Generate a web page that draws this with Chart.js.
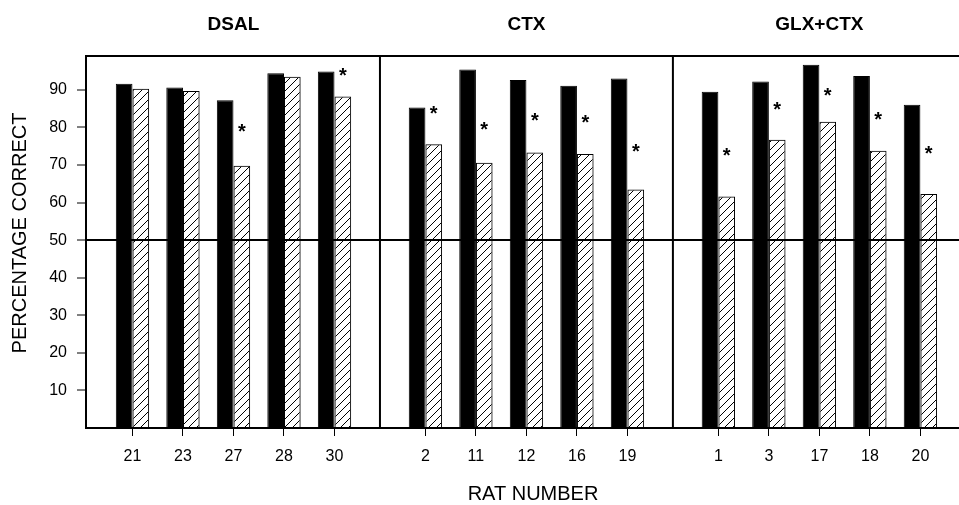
<!DOCTYPE html>
<html>
<head>
<meta charset="utf-8">
<script src="https://cdn.jsdelivr.net/npm/chart.js@4/dist/chart.umd.min.js"></script>
<style>
    html, body { margin: 0; padding: 0; background: #fff; overflow: hidden; }
    #wrap { width: 980px; height: 505px; }
</style>
</head>
<body>
<div id="wrap"><canvas id="ratChart" width="980" height="505"></canvas></div>
<script>
const groupNames = ['DSAL', 'CTX', 'GLX+CTX'];
const ratNumbers = ['21', '23', '27', '28', '30', '2', '11', '12', '16', '19', '1', '3', '17', '18', '20'];
const solidValues = [91.6, 90.6, 87.2, 94.4, 94.9, 85.3, 95.4, 92.6, 91.1, 93.0, 89.5, 92.2, 96.7, 93.7, 86.0];
const hatchedValues = [90.3, 89.7, 69.8, 93.5, 88.2, 75.5, 70.6, 73.3, 72.9, 63.5, 61.6, 76.7, 81.5, 73.8, 62.3];
// asterisk heights, null = no asterisk
const starValues = [null, null, 80.1, null, 95.0, 84.9, 80.7, 83.0, 82.5, 74.9, 73.8, 86.0, 89.7, 83.4, 74.3];
const yTicks = [10, 20, 30, 40, 50, 60, 70, 80, 90];
const yTitle = 'PERCENTAGE CORRECT';
const xTitle = 'RAT NUMBER';

// slot layout on the x axis
const PER_GROUP = 5;
const FIRST_SLOT = 0.92;
const GROUP_STRIDE = 5.8;
const X_MAX = 17.7;

function slotPos(k) {
    const g = Math.floor(k / PER_GROUP);
    return FIRST_SLOT + g * GROUP_STRIDE + (k % PER_GROUP);
}
const slotPositions = ratNumbers.map((_, k) => slotPos(k));
const groupCenters = groupNames.map((_, g) => slotPos(g * PER_GROUP + 2));
const separators = [1, 2].map(g => FIRST_SLOT + g * GROUP_STRIDE - 0.9);

const FONT = '"Liberation Sans", Arial, sans-serif';

function makeHatch() {
    const c = document.createElement('canvas');
    c.width = 8; c.height = 8;
    const cx = c.getContext('2d');
    cx.strokeStyle = '#000';
    cx.lineWidth = 1;
    cx.beginPath();
    cx.moveTo(0, 8); cx.lineTo(8, 0);
    cx.moveTo(-2, 2); cx.lineTo(2, -2);
    cx.moveTo(6, 10); cx.lineTo(10, 6);
    cx.stroke();
    return cx.createPattern(c, 'repeat');
}

const extras = {
    id: 'extras',
    beforeDatasetsDraw(chart) {
        const { ctx, chartArea, scales } = chart;
        ctx.save();
        ctx.strokeStyle = '#000';
        ctx.lineWidth = 2;
        separators.forEach(v => {
            const x = scales.x.getPixelForValue(v);
            ctx.beginPath();
            ctx.moveTo(x, chartArea.top);
            ctx.lineTo(x, chartArea.bottom);
            ctx.stroke();
        });
        ctx.restore();
    },
    afterDatasetsDraw(chart) {
        const { ctx, chartArea, scales } = chart;
        const bars = chart.getDatasetMeta(1).data;
        ctx.save();
        ctx.fillStyle = '#000';
        ctx.font = 'bold 20px ' + FONT;
        ctx.textAlign = 'center';
        ctx.textBaseline = 'alphabetic';
        starValues.forEach((v, i) => {
            if (v === null) return;
            ctx.fillText('*', bars[i].x, scales.y.getPixelForValue(v) + 11);
        });
        // y axis title
        ctx.font = '20px ' + FONT;
        ctx.textBaseline = 'middle';
        ctx.translate(20, (chartArea.top + chartArea.bottom) / 2 - 9);
        ctx.rotate(-Math.PI / 2);
        ctx.fillText(yTitle, 0, 0);
        ctx.restore();
    }
};

const ctx = document.getElementById('ratChart').getContext('2d');
new Chart(ctx, {
    type: 'bar',
    data: {
        datasets: [{
            label: 'Solid',
            data: solidValues.map((v, i) => ({ x: slotPositions[i], y: v })),
            backgroundColor: '#000',
            borderColor: '#000',
            borderWidth: 1
        }, {
            label: 'Hatched',
            data: hatchedValues.map((v, i) => ({ x: slotPositions[i], y: v })),
            backgroundColor: makeHatch(),
            borderColor: '#000',
            borderWidth: 1
        }]
    },
    options: {
        responsive: false,
        animation: false,
        categoryPercentage: 0.66,
        barPercentage: 1,
        layout: { padding: { top: 13, left: 0, right: 0, bottom: 0 } },
        plugins: {
            legend: { display: false },
            tooltip: { enabled: false }
        },
        scales: {
            x: {
                type: 'linear',
                position: 'bottom',
                min: 0,
                max: X_MAX,
                offset: false,
                afterBuildTicks: s => { s.ticks = slotPositions.map(v => ({ value: v })); },
                afterFit: s => { s.height = 77; },
                ticks: {
                    autoSkip: false,
                    maxRotation: 0,
                    padding: 11,
                    color: '#000',
                    font: { family: FONT, size: 16 },
                    callback: (v, i) => ratNumbers[i]
                },
                grid: {
                    offset: false,
                    drawOnChartArea: false,
                    drawTicks: true,
                    tickLength: 8,
                    tickColor: '#000',
                    tickWidth: 1
                },
                border: { display: true, color: '#000', width: 2 },
                title: {
                    display: true,
                    text: xTitle,
                    color: '#000',
                    font: { family: FONT, size: 20 },
                    padding: { top: 0, bottom: -1 }
                }
            },
            top: {
                type: 'linear',
                axis: 'x',
                position: 'top',
                min: 0,
                max: X_MAX,
                offset: false,
                afterBuildTicks: s => { s.ticks = groupCenters.map(v => ({ value: v })); },
                afterFit: s => { s.height = 43; },
                ticks: {
                    autoSkip: false,
                    maxRotation: 0,
                    padding: 20,
                    color: '#000',
                    font: { family: FONT, size: 19, weight: 'bold' },
                    callback: (v, i) => groupNames[i]
                },
                grid: { display: false, drawTicks: false, offset: false },
                border: { display: true, color: '#000', width: 2 }
            },
            y: {
                min: 0,
                max: 99,
                afterBuildTicks: s => { s.ticks = yTicks.map(v => ({ value: v })); },
                afterFit: s => { s.width = 86; },
                ticks: {
                    padding: 10,
                    color: '#000',
                    font: { family: FONT, size: 16 }
                },
                grid: {
                    drawOnChartArea: true,
                    color: '#000',
                    lineWidth: c => (c.tick && c.tick.value === 50 ? 2 : 0),
                    tickLength: 9,
                    tickColor: '#000',
                    tickWidth: 1
                },
                border: { display: true, color: '#000', width: 2 }
            }
        }
    },
    plugins: [extras]
});
</script>
</body>
</html>
